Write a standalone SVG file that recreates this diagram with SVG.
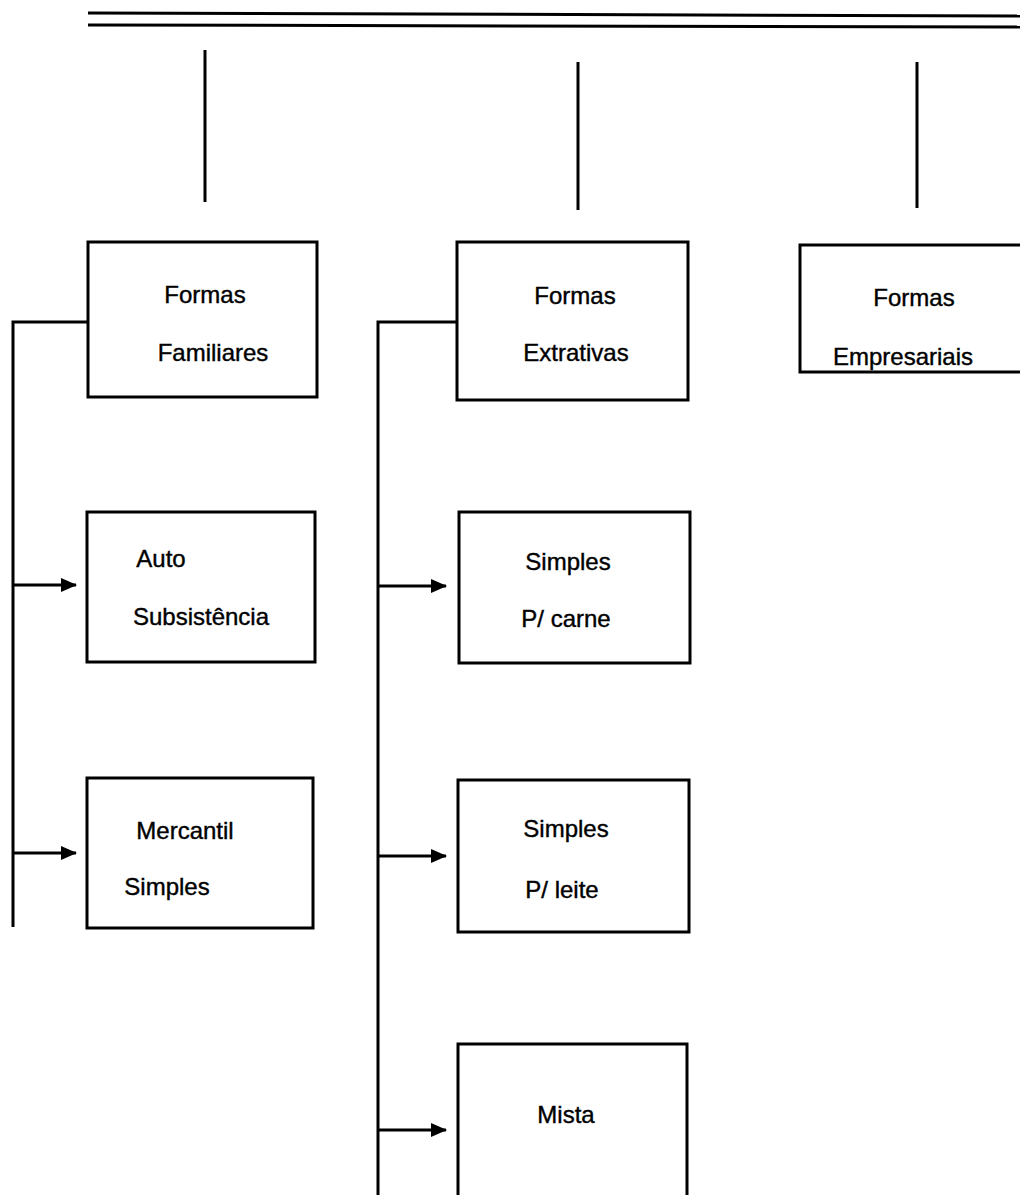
<svg xmlns="http://www.w3.org/2000/svg" width="1020" height="1195" viewBox="0 0 1020 1195">
<style>
.box{fill:#fff;stroke:#000;stroke-width:3}
.ln{fill:none;stroke:#000;stroke-width:3}
.t{font-family:"Liberation Sans",Arial,sans-serif;font-size:24px;fill:#000;stroke:#000;stroke-width:0.4;text-anchor:middle}
</style>
<defs>
<marker id="ah" markerWidth="16" markerHeight="16" refX="15" refY="8" orient="auto" markerUnits="userSpaceOnUse" viewBox="0 0 16 16">
<path d="M0,1 L16,8 L0,15 z" fill="#000"/>
</marker>
</defs>
<g id="connectors">
<line class="ln" x1="88" y1="13" x2="1020" y2="16"/>
<line class="ln" x1="88" y1="25" x2="1020" y2="27"/>
<line class="ln" x1="205" y1="50" x2="205" y2="202"/>
<line class="ln" x1="578" y1="62" x2="578" y2="210"/>
<line class="ln" x1="917" y1="62" x2="917" y2="208"/>
<polyline class="ln" points="88,322 13,322 13,927"/>
<line class="ln" x1="13" y1="585" x2="76" y2="585" marker-end="url(#ah)"/>
<line class="ln" x1="13" y1="853" x2="76" y2="853" marker-end="url(#ah)"/>
<polyline class="ln" points="457,322 378,322 378,1195"/>
<line class="ln" x1="378" y1="586" x2="446" y2="586" marker-end="url(#ah)"/>
<line class="ln" x1="378" y1="856" x2="446" y2="856" marker-end="url(#ah)"/>
<line class="ln" x1="378" y1="1130" x2="446" y2="1130" marker-end="url(#ah)"/>
</g>
<g id="formas-familiares">
<rect class="box" x="88" y="242" width="229" height="155"/>
<text class="t" x="205" y="303">Formas</text>
<text class="t" x="213" y="361">Familiares</text>
</g>
<g id="auto-subsistencia">
<rect class="box" x="87" y="512" width="228" height="150"/>
<text class="t" x="161" y="567">Auto</text>
<text class="t" x="201" y="625">Subsistência</text>
</g>
<g id="mercantil-simples">
<rect class="box" x="87" y="778" width="226" height="150"/>
<text class="t" x="185" y="839">Mercantil</text>
<text class="t" x="167" y="895">Simples</text>
</g>
<g id="formas-extrativas">
<rect class="box" x="457" y="242" width="231" height="158"/>
<text class="t" x="575" y="304">Formas</text>
<text class="t" x="576" y="361">Extrativas</text>
</g>
<g id="simples-carne">
<rect class="box" x="459" y="512" width="231" height="151"/>
<text class="t" x="568" y="570">Simples</text>
<text class="t" x="566" y="627">P/ carne</text>
</g>
<g id="simples-leite">
<rect class="box" x="458" y="780" width="231" height="152"/>
<text class="t" x="566" y="837">Simples</text>
<text class="t" x="562" y="898">P/ leite</text>
</g>
<g id="mista">
<rect class="box" x="458" y="1044" width="229" height="160"/>
<text class="t" x="566" y="1123">Mista</text>
</g>
<g id="formas-empresariais">
<rect class="box" x="800" y="245" width="240" height="127"/>
<text class="t" x="914" y="306">Formas</text>
<text class="t" x="903" y="365">Empresariais</text>
</g>
</svg>
